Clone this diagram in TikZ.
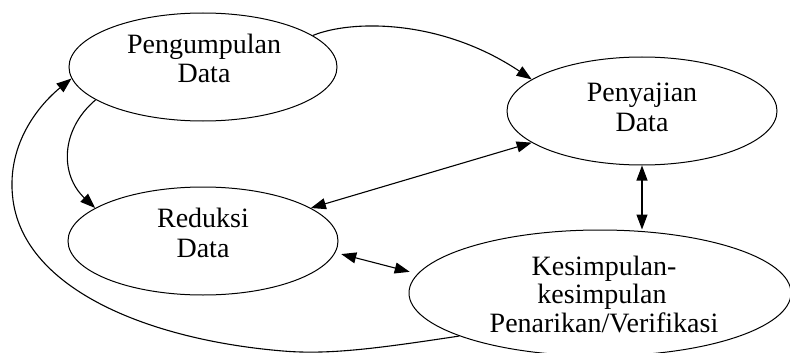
\documentclass[tikz,border=0pt]{standalone}
\usepackage{fontspec}
\setmainfont{Liberation Serif}
\usetikzlibrary{shapes.geometric,arrows.meta}
\begin{document}
\begin{tikzpicture}[x=1pt,y=-1pt,
  oval/.style={draw,ellipse,line width=1pt,inner sep=0pt},
  lbl/.style={anchor=base,inner sep=0pt,font=\fontsize{28}{29}\selectfont},
  con/.style={line width=1.1pt},
  tip/.style={-{Triangle[length=15pt,width=11pt]}},
  tips/.style={{Triangle[length=15pt,width=11pt]}-{Triangle[length=15pt,width=11pt]}}]
\useasboundingbox (0,0) rectangle (790,353);
\node[oval,minimum width=268pt,minimum height=108pt] (n1) at (203,67) {};
\node[oval,minimum width=270pt,minimum height=108pt] (n2) at (642,111) {};
\node[oval,minimum width=270pt,minimum height=108pt] (n3) at (203,241) {};
\node[oval,minimum width=382pt,minimum height=126pt] (n4) at (600,293) {};
\node[lbl] (t1a) at (204,54) {Pengumpulan};
\node[lbl] (t1b) at (204,83) {Data};
\node[lbl] (t2a) at (642,102) {Penyajian};
\node[lbl] (t2b) at (642,131) {Data};
\node[lbl] (t3a) at (203,227) {Reduksi};
\node[lbl] (t3b) at (203,257) {Data};
\node[lbl] (t4a) at (604,275) {Kesimpulan-};
\node[lbl] (t4b) at (602,303) {kesimpulan};
\node[lbl] (t4c) at (604,332) {Penarikan/Verifikasi};
\draw[con,tip] (n1.16) .. controls (350,20) and (440,18) .. (n2.164);
\draw[con,tip] (n1.197) .. controls (60,130) and (60,175) .. (n3.163);
\draw[con,tips] (n2.196) -- (n3.17);
\draw[con,tips] (n2.south) -- (n2.south |- n4.north);
\draw[con,tips,shorten <=6pt,shorten >=8pt] (n3.355) -- (n4.174);
\draw[con,tip] (n4.197) .. controls (380,348) and (330,355) .. (283,351)
  .. controls (150,340) and (25,290) .. (13,200)
  .. controls (5,140) and (45,100) .. (n1.185);
\end{tikzpicture}
\end{document}
